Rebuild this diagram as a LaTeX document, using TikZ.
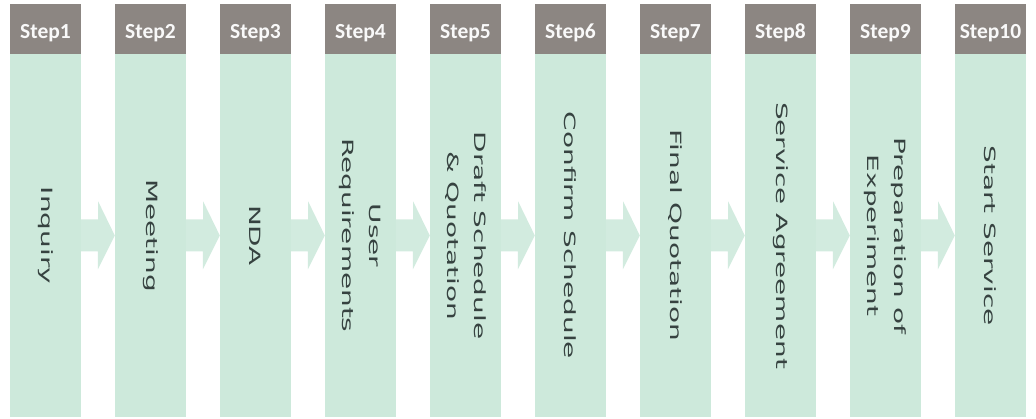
\documentclass[tikz,border=0pt]{standalone}
\usepackage{fontspec}
\usepackage{tikz}
\usetikzlibrary{calc}
\newfontfamily\headfont{Carlito}
\newfontfamily\colfont{DejaVu Sans}
\definecolor{stepgray}{HTML}{8C8682}
\definecolor{mint}{HTML}{CDE9DB}
\definecolor{inkgray}{HTML}{364240}

\begin{document}
\begin{tikzpicture}
	[x=1pt,y=-1pt,
	head/.style={fill=stepgray,minimum width=71pt,minimum height=50pt,inner sep=0pt},
	headtext/.style={text=white!95!stepgray,font=\headfont\bfseries\fontsize{21.5}{24}\selectfont,anchor=base,inner sep=0pt},
	body/.style={fill=mint,minimum width=71pt,minimum height=363pt,inner sep=0pt},
	bodytext/.style={text=inkgray,font=\colfont\fontsize{15.5}{27}\selectfont,align=center,rotate=-90,xscale=1.8,inner sep=0pt},
	flow/.style={fill=mint!90!white}]
	\useasboundingbox (0,0) rectangle (1036,419);
	\foreach \i/\txt in {1/Inquiry,2/Meeting,3/NDA,4/{User\\Requirements},5/{Draft Schedule\\\& Quotation},6/Confirm Schedule,7/Final Quotation,8/Service Agreement,9/{Preparation of\\Experiment},10/Start Service}{
		\node[head] (h\i) at ({45.5+105*(\i-1)},29) {};
		\node[headtext] (s\i) at ({45.5+105*(\i-1)},39) {Step\i};
		\node[body] (b\i) at ({45.5+105*(\i-1)},235.5) {};
		\node[bodytext] (t\i) at (b\i) {\txt};
	}
	\foreach \i [evaluate=\i as \j using int(\i+1)] in {1,...,9}
		\fill[flow] ($(b\i.east)+(0,-16)$) -- ++(17,0) -- ++(0,-18) -- (b\j.west) -- ++(-17,34) -- ++(0,-18) -- ($(b\i.east)+(0,16)$) -- cycle;
\end{tikzpicture}
\end{document}
